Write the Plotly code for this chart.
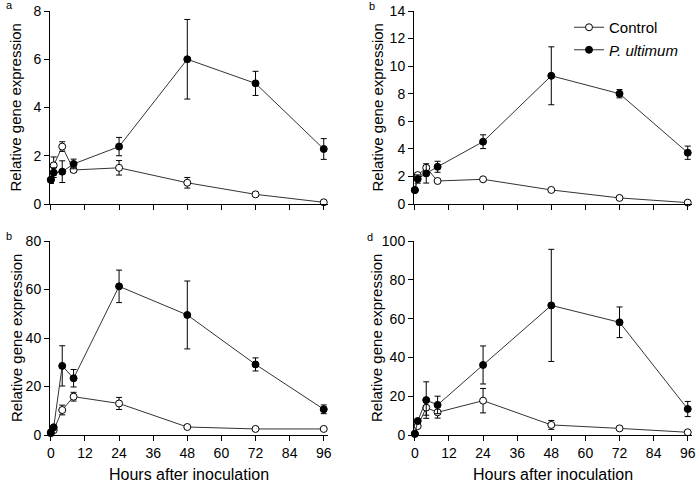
import plotly.graph_objects as go

hours = [0, 1, 4, 8, 24, 48, 72, 96]

# panel a
a_ctrl = [1.0, 1.6, 2.38, 1.41, 1.5, 0.88, 0.4, 0.07]
a_ctrl_err = [0.1, 0.35, 0.2, 0.1, 0.3, 0.22, 0.05, 0.03]
a_path = [1.0, 1.3, 1.34, 1.66, 2.38, 6.0, 5.0, 2.28]
a_path_err = [0.15, 0.2, 0.45, 0.2, 0.38, 1.65, 0.5, 0.43]

# panel b (top right)
b_ctrl = [1.0, 2.1, 2.63, 1.67, 1.79, 1.02, 0.44, 0.1]
b_ctrl_err = [0.1, 0.15, 0.15, 0.1, 0.1, 0.08, 0.05, 0.03]
b_path = [1.02, 1.81, 2.22, 2.7, 4.52, 9.3, 8.0, 3.72]
b_path_err = [0.1, 0.3, 0.7, 0.4, 0.5, 2.1, 0.3, 0.48]

# panel b (bottom left)
c_ctrl = [0.7, 2.0, 10.3, 15.8, 13.0, 3.3, 2.5, 2.5]
c_ctrl_err = [0.3, 0.5, 2.0, 1.8, 2.5, 0.5, 0.4, 0.4]
c_path = [1.1, 3.2, 28.5, 23.4, 61.3, 49.5, 29.1, 10.6]
c_path_err = [0.3, 0.5, 8.3, 3.6, 6.7, 14.0, 2.7, 1.8]

# panel d
d_ctrl = [0.5, 4.6, 14.1, 11.7, 17.7, 5.2, 3.4, 1.4]
d_ctrl_err = [0.3, 0.8, 3.9, 3.0, 6.3, 2.3, 0.5, 0.3]
d_path = [0.7, 7.2, 18.0, 15.5, 36.1, 66.8, 58.1, 13.4]
d_path_err = [0.3, 1.0, 9.4, 4.5, 9.8, 28.9, 7.9, 3.9]

panel_letters = ["a", "b", "b", "d"]
y_title = "Relative gene expression"
x_title = "Hours after inoculation"

panels = [
    ("x", "y", a_ctrl, a_ctrl_err, a_path, a_path_err, False),
    ("x2", "y2", b_ctrl, b_ctrl_err, b_path, b_path_err, True),
    ("x3", "y3", c_ctrl, c_ctrl_err, c_path, c_path_err, False),
    ("x4", "y4", d_ctrl, d_ctrl_err, d_path, d_path_err, False),
]

FONT = "Liberation Sans, Arial, sans-serif"
LINE = "#333333"

fig = go.Figure()
for xa, ya, cv, ce, pv, pe, show in panels:
    fig.add_trace(go.Scatter(
        x=hours, y=cv, xaxis=xa, yaxis=ya, mode="lines+markers",
        name="Control", legendgroup="c", showlegend=show,
        line=dict(color=LINE, width=1),
        marker=dict(symbol="circle", size=7, color="white", line=dict(color="black", width=1)),
        error_y=dict(type="data", array=ce, color="black", thickness=1, width=3),
        cliponaxis=False,
    ))
    fig.add_trace(go.Scatter(
        x=hours, y=pv, xaxis=xa, yaxis=ya, mode="lines+markers",
        name="<i>P. ultimum</i>", legendgroup="p", showlegend=show,
        line=dict(color=LINE, width=1),
        marker=dict(symbol="circle", size=7, color="black", line=dict(color="black", width=1)),
        error_y=dict(type="data", array=pe, color="black", thickness=1, width=3),
        cliponaxis=False,
    ))

W, H = 700, 484
xdom_l = [50 / W, 328 / W]
xdom_r = [414 / W, 692 / W]
ydom_t = [1 - 204 / H, 1 - 11 / H]
ydom_b = [1 - 435 / H, 1 - 241 / H]

def xax(dom, anchor, labels):
    return dict(domain=dom, anchor=anchor, range=[-0.3, 97.5], tickmode="array",
                tickvals=list(range(0, 97, 12)), showticklabels=labels,
                ticklabeloverflow="allow", automargin=False,
                ticks="outside", ticklen=5, tickcolor="black", showline=True,
                linecolor="black", linewidth=1, showgrid=False, zeroline=False,
                tickfont=dict(size=14, color="black", family=FONT),
                title=dict(text=x_title if labels else "",
                           font=dict(size=16, color="black", family=FONT), standoff=9))

def yax(dom, anchor, rng, dt):
    return dict(domain=dom, anchor=anchor, range=rng, dtick=dt, ticks="outside",
                ticklen=5, tickcolor="black", showline=True, linecolor="black",
                linewidth=1, showgrid=False, zeroline=False, automargin=False,
                tickfont=dict(size=14, color="black", family=FONT))

fig.update_layout(
    width=W, height=H, margin=dict(l=0, r=0, t=0, b=0, autoexpand=False),
    paper_bgcolor="white", plot_bgcolor="white",
    font=dict(family=FONT, color="black"),
    xaxis=xax(xdom_l, "y", False),
    xaxis2=xax(xdom_r, "y2", False),
    xaxis3=xax(xdom_l, "y3", True),
    xaxis4=xax(xdom_r, "y4", True),
    yaxis=yax(ydom_t, "x", [0, 8], 2),
    yaxis2=yax(ydom_t, "x2", [0, 14], 2),
    yaxis3=yax(ydom_b, "x3", [0, 80], 20),
    yaxis4=yax(ydom_b, "x4", [0, 100], 20),
    legend=dict(x=569 / W, y=1 - 11 / H, xanchor="left", yanchor="top",
                bgcolor="rgba(0,0,0,0)", font=dict(size=15, color="black", family=FONT),
                tracegroupgap=0, itemwidth=30),
    showlegend=True,
)

for txt, x, y in zip(panel_letters, [9, 372, 9, 370], [5, 6, 236, 237]):
    fig.add_annotation(text=txt, x=x / W, y=1 - y / H, xref="paper", yref="paper",
                       showarrow=False, font=dict(size=11, color="black", family=FONT),
                       xanchor="center", yanchor="middle")

for x, dom in zip([15, 377, 16, 376], [ydom_t, ydom_t, ydom_b, ydom_b]):
    fig.add_annotation(text=y_title, x=x / W, y=(dom[0] + dom[1]) / 2,
                       xref="paper", yref="paper", showarrow=False, textangle=-90,
                       font=dict(size=15, color="black", family=FONT),
                       xanchor="center", yanchor="middle")

fig.write_html("out.html", config={"displayModeBar": False},
               post_script="document.body.style.margin='0px';")
